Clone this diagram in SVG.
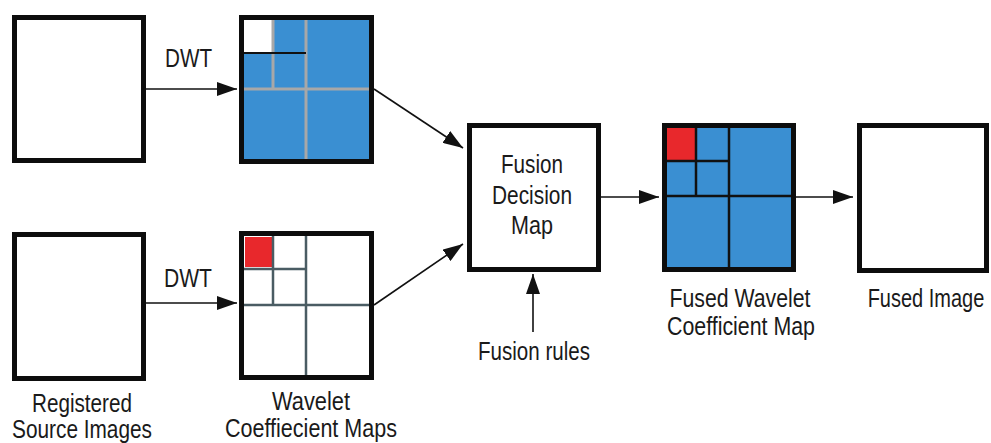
<svg xmlns="http://www.w3.org/2000/svg" width="991" height="443" viewBox="0 0 991 443">
<defs>
<marker id="ah" markerUnits="userSpaceOnUse" markerWidth="20" markerHeight="14" refX="20" refY="7" orient="auto">
<path d="M0,0 L20,7 L0,14 z" fill="#111"/>
</marker>
<style>
.box{fill:#fff;stroke:#0d0d0d;stroke-width:5}
.frame{fill:none;stroke:#0d0d0d;stroke-width:5}
.blue{fill:#3a8fd2}
.red{fill:#e8282c}
.gl{stroke:#a8a8a8;stroke-width:3;fill:none}
.dl{stroke:#4a5c63;stroke-width:2.5;fill:none}
.bl{stroke:#111;stroke-width:2.5;fill:none}
.conn{stroke:#111;stroke-width:1.6;fill:none;marker-end:url(#ah)}
text{font-family:"Liberation Sans",Arial,sans-serif;font-size:25px;fill:#1a1a1a;text-anchor:middle}
</style>
</defs>
<rect width="991" height="443" fill="#fff"/>

<g id="src1">
<rect class="box" x="14.5" y="17.5" width="129" height="143"/>
</g>

<g id="src2">
<rect class="box" x="14.5" y="234.5" width="129" height="144"/>
</g>

<g id="wav1">
<rect class="blue" x="242" y="18" width="130" height="143"/>
<rect fill="#fff" x="243" y="19" width="30" height="34"/>
<path class="gl" d="M306,19 V159 M243,89 H371 M273,19 V89"/>
<path stroke="#111" stroke-width="2" d="M243,53 H306"/>
<rect class="frame" x="241.5" y="17.5" width="130" height="144"/>
</g>

<g id="wav2">
<rect fill="#fff" x="242" y="234" width="130" height="144"/>
<rect class="red" x="245" y="237" width="27" height="30"/>
<path class="dl" d="M306,235 V377 M243,305 H371 M273,235 V305 M243,269 H306"/>
<rect class="frame" x="241.5" y="233.5" width="130" height="144"/>
</g>

<g id="fusion">
<rect class="box" x="469.5" y="125.5" width="129" height="144"/>
<text x="532" y="173" textLength="62" lengthAdjust="spacingAndGlyphs">Fusion</text>
<text x="532" y="204" textLength="80" lengthAdjust="spacingAndGlyphs">Decision</text>
<text x="532" y="234" textLength="42" lengthAdjust="spacingAndGlyphs">Map</text>
</g>

<g id="fused-map">
<rect class="blue" x="665" y="126" width="129" height="144"/>
<rect class="red" x="667" y="128" width="29" height="33"/>
<path class="bl" d="M729,128 V270 M667,196 H794 M696,128 V196 M667,161 H729"/>
<rect class="frame" x="664.5" y="125.5" width="129" height="144"/>
</g>

<g id="fused-image">
<rect class="box" x="859.5" y="125.5" width="127" height="145"/>
</g>

<g id="connectors">
<line class="conn" x1="146" y1="89" x2="237" y2="89"/>
<line class="conn" x1="146" y1="303" x2="237" y2="303"/>
<line class="conn" x1="374" y1="89" x2="463" y2="148"/>
<line class="conn" x1="374" y1="305" x2="463" y2="244"/>
<line class="conn" x1="601" y1="197" x2="659" y2="197"/>
<line class="conn" x1="796" y1="197" x2="853" y2="197"/>
<line class="conn" x1="533" y1="332" x2="533" y2="274"/>
</g>

<g id="labels">
<text x="188.5" y="67" textLength="47" lengthAdjust="spacingAndGlyphs">DWT</text>
<text x="188" y="287" textLength="48" lengthAdjust="spacingAndGlyphs">DWT</text>
<text x="534" y="360" textLength="112" lengthAdjust="spacingAndGlyphs">Fusion rules</text>
<text x="740" y="307" textLength="141" lengthAdjust="spacingAndGlyphs">Fused Wavelet</text>
<text x="741" y="335" textLength="148" lengthAdjust="spacingAndGlyphs">Coefficient Map</text>
<text transform="translate(926,307) scale(0.8,1)" x="0" y="0">Fused Image</text>
<text x="82" y="412" textLength="100" lengthAdjust="spacingAndGlyphs">Registered</text>
<text x="82" y="438" textLength="140" lengthAdjust="spacingAndGlyphs">Source Images</text>
<text x="311" y="410" textLength="78" lengthAdjust="spacingAndGlyphs">Wavelet</text>
<text x="311" y="437" textLength="172" lengthAdjust="spacingAndGlyphs">Coeffiecient Maps</text>
</g>
</svg>
